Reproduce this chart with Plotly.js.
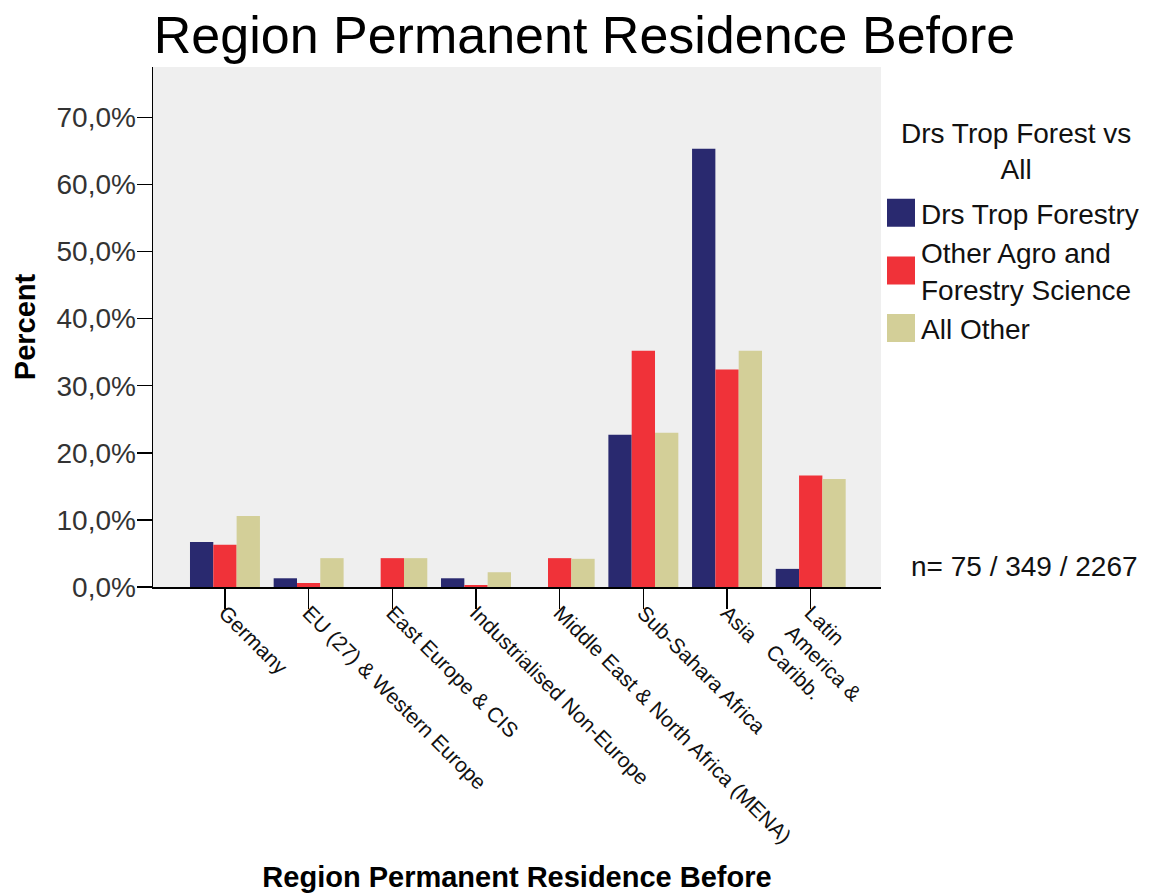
<!DOCTYPE html>
<html>
<head>
<meta charset="utf-8">
<script src="https://cdn.plot.ly/plotly-3.0.1.min.js"></script>
<style>
html,body{margin:0;padding:0;background:#fff;}
#chart{width:1162px;height:893px;}
</style>
</head>
<body>
<div id="chart"></div>
<script>
const categories = ["Germany", "EU (27) & Western Europe", "East Europe & CIS", "Industrialised Non-Europe",
  "Middle East & North Africa (MENA)", "Sub-Sahara Africa", "Asia", "Latin<br>America &<br>Caribb."];
const seriesNames = ["Drs Trop Forestry", "Other Agro and<br>Forestry Science", "All Other"];
const drsTropForestry = [6.7, 1.3, 0.0, 1.3, 0.0, 22.7, 65.3, 2.7];
const otherAgroForestry = [6.3, 0.6, 4.3, 0.3, 4.3, 35.2, 32.4, 16.6];
const allOther = [10.6, 4.3, 4.3, 2.2, 4.2, 23.0, 35.2, 16.1];
const seriesColors = ["#29296f", "#f03239", "#d3cf98"];
const seriesValues = [drsTropForestry, otherAgroForestry, allOther];
const yTickValues = [0, 10, 20, 30, 40, 50, 60, 70];
const yTickText = yTickValues.map(v => v.toFixed(1).replace(".", ",") + "%");
const legendTitle = "Drs Trop Forest vs<br>All";
const sampleNote = "n= 75 / 349 / 2267";

const traces = seriesValues.map((vals, i) => ({
  type: "bar",
  x: categories,
  y: vals,
  name: seriesNames[i],
  marker: {color: seriesColors[i], line: {width: 0}},
  hoverinfo: "none"
}));

const layout = {
  width: 1162, height: 893,
  margin: {l: 153, r: 281, t: 67, b: 306, pad: 0},
  paper_bgcolor: "#ffffff",
  plot_bgcolor: "#efefef",
  font: {family: "Liberation Sans, Arial, sans-serif", color: "#222"},
  title: {text: "Region Permanent Residence Before", font: {size: 52, color: "#000"},
          x: 0.503, xref: "container", y: 0.961, yref: "container", xanchor: "center", yanchor: "middle"},
  barmode: "group",
  bargap: 0.164,
  bargroupgap: 0,
  xaxis: {
    type: "category",
    range: [-0.86, 7.84],
    showgrid: false, zeroline: false,
    showline: true, linecolor: "#000", linewidth: 1.5,
    ticks: "outside", ticklen: 20, tickcolor: "#000", tickwidth: 1.5,
    tickangle: 45,
    ticklabelstandoff: -16,
    tickfont: {size: 21, color: "#111"},
    title: {text: "Region Permanent Residence Before", font: {size: 29, color: "#000", weight: "bold"}, standoff: 26},
    automargin: false
  },
  yaxis: {
    range: [0, 77.5],
    tickvals: yTickValues,
    ticktext: yTickText,
    showgrid: false, zeroline: false,
    showline: true, linecolor: "#000", linewidth: 1.5,
    ticks: "outside", ticklen: 15, tickcolor: "#000", tickwidth: 1.5,
    ticklabelstandoff: -5,
    tickfont: {size: 28, color: "#333"},
    title: {text: "Percent", font: {size: 29, color: "#000", weight: "bold"}, standoff: 12},
    automargin: false
  },
  legend: {
    x: 1.0, xanchor: "left", y: 0.767, yanchor: "top",
    bgcolor: "rgba(0,0,0,0)",
    font: {size: 28, color: "#111"},
    traceorder: "normal",
    itemclick: false
  },
  annotations: [
    {text: legendTitle, xref: "paper", yref: "paper", x: 1.1854, y: 0.838,
     xanchor: "center", yanchor: "middle", align: "center", showarrow: false, font: {size: 28, color: "#111"}},
    {text: sampleNote, xref: "paper", yref: "paper", x: 1.1975, y: 0.04,
     xanchor: "center", yanchor: "middle", showarrow: false, font: {size: 28, color: "#111"}}
  ]
};

Plotly.newPlot("chart", traces, layout, {displayModeBar: false, staticPlot: true}).then(() => {
  document.querySelectorAll("#chart .legend .legendpoints path").forEach(p => {
    p.setAttribute("d", "M14,14H-14V-14H14Z");
  });
});
</script>
</body>
</html>
